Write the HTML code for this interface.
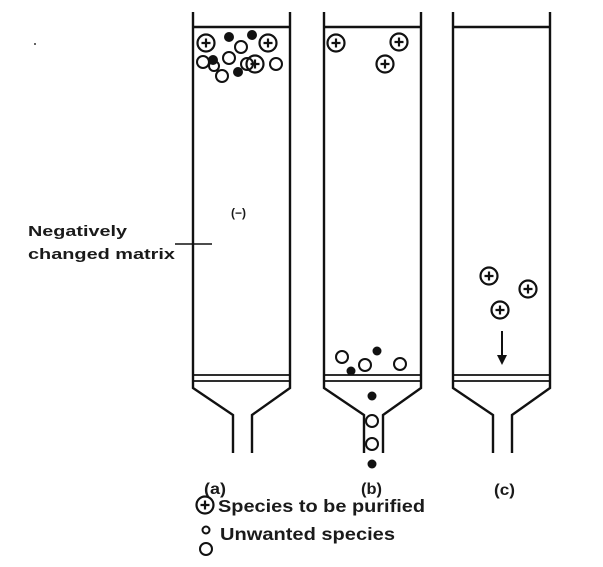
<!DOCTYPE html>
<html><head><style>
html,body{margin:0;padding:0;background:#fff;}
svg{display:block;}
text{font-family:"Liberation Sans",Arial,sans-serif;fill:#1a1a1a;}
</style></head><body>
<svg width="603" height="567" viewBox="0 0 603 567" xmlns="http://www.w3.org/2000/svg">
<defs>
<g id="p"><circle r="8.5" fill="none" stroke="#111" stroke-width="2.2"/><path d="M-4.5 0H4.5M0 -4.5V4.5" stroke="#111" stroke-width="2.2"/></g>
<g id="col" fill="none" stroke="#111" stroke-width="2.4">
<path d="M0 12V388L40 415V453"/>
<path d="M97 12V388L59 415V453"/>
<path d="M0 27H97"/>
<path d="M0 375H97M0 381H97" stroke-width="1.8"/>
</g>
</defs>
<use href="#col" x="193"/>
<use href="#col" x="324"/>
<use href="#col" x="453"/>
<!-- (a) particles -->
<g fill="none" stroke="#111" stroke-width="2">
<circle cx="203" cy="62" r="6"/><circle cx="222" cy="76" r="6"/><circle cx="229" cy="58" r="6"/>
<circle cx="241" cy="47" r="6"/><circle cx="247" cy="64" r="6"/><circle cx="276" cy="64" r="6"/><circle cx="214" cy="66" r="5"/>
</g>
<g fill="#111"><circle cx="229" cy="37" r="5"/><circle cx="252" cy="35" r="5"/><circle cx="213" cy="60" r="5"/><circle cx="238" cy="72" r="5"/></g>
<g fill="#fff"><use href="#p" x="206" y="43"/><use href="#p" x="268" y="43"/><use href="#p" x="255" y="64"/></g>
<text x="231" y="217" font-size="12" font-weight="bold">(−)</text>
<path d="M175 244H212" stroke="#111" stroke-width="1.6"/>
<text x="28" y="236" font-size="15" font-weight="bold" textLength="99" lengthAdjust="spacingAndGlyphs">Negatively</text>
<text x="28" y="259" font-size="15" font-weight="bold" textLength="147" lengthAdjust="spacingAndGlyphs">changed matrix</text>
<!-- (b) -->
<use href="#p" x="336" y="43"/><use href="#p" x="399" y="42"/><use href="#p" x="385" y="64"/>
<g fill="none" stroke="#111" stroke-width="2">
<circle cx="342" cy="357" r="6"/><circle cx="365" cy="365" r="6"/><circle cx="400" cy="364" r="6"/>
<circle cx="372" cy="421" r="6"/><circle cx="372" cy="444" r="6"/>
</g>
<g fill="#111"><circle cx="377" cy="351" r="4.5"/><circle cx="351" cy="371" r="4.5"/><circle cx="372" cy="396" r="4.5"/><circle cx="372" cy="464" r="4.5"/></g>
<!-- (c) -->
<use href="#p" x="489" y="276"/><use href="#p" x="528" y="289"/><use href="#p" x="500" y="310"/>
<path d="M502 331V358" stroke="#111" stroke-width="2"/><path d="M497 355L502 365L507 355Z" fill="#111"/>
<!-- labels -->
<text x="204" y="494" font-size="16" font-weight="bold" textLength="22" lengthAdjust="spacingAndGlyphs">(a)</text>
<text x="361" y="494" font-size="16" font-weight="bold" textLength="21" lengthAdjust="spacingAndGlyphs">(b)</text>
<text x="494" y="495" font-size="16" font-weight="bold" textLength="21" lengthAdjust="spacingAndGlyphs">(c)</text>
<use href="#p" x="205" y="505"/>
<text x="218" y="512" font-size="17.5" font-weight="bold" textLength="207" lengthAdjust="spacingAndGlyphs">Species to be purified</text>
<circle cx="206" cy="530" r="3.5" fill="none" stroke="#111" stroke-width="2"/>
<text x="220" y="540" font-size="17.5" font-weight="bold" textLength="175" lengthAdjust="spacingAndGlyphs">Unwanted species</text>
<circle cx="206" cy="549" r="6" fill="none" stroke="#111" stroke-width="2"/>
<circle cx="35" cy="44" r="1" fill="#333"/>
</svg>
</body></html>
